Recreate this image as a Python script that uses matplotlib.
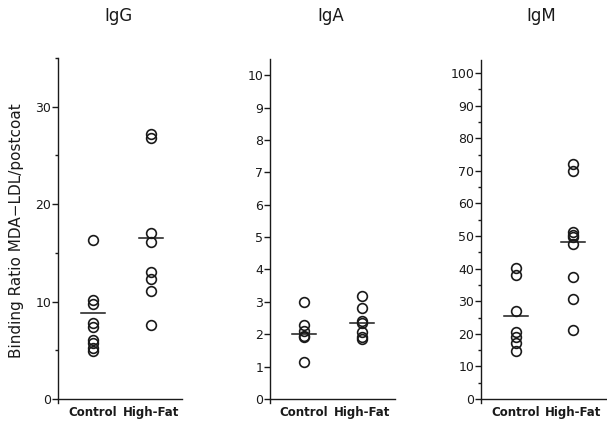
import matplotlib
matplotlib.use("Agg")
import matplotlib.pyplot as plt
from matplotlib.ticker import MultipleLocator

groups = ["Control", "High-Fat"]
titles = ["IgG", "IgA", "IgM"]

igg_control = [16.3, 10.2, 9.7, 7.8, 7.4, 6.1, 5.7, 5.2, 4.9]
igg_highfat = [27.2, 26.8, 17.0, 16.1, 13.0, 12.3, 11.1, 7.6]
igg_means = [8.8, 16.5]

iga_control = [3.0, 2.27, 2.1, 1.95, 1.9, 1.15]
iga_highfat = [3.18, 2.8, 2.4, 2.35, 2.08, 1.9, 1.84]
iga_means = [2.0, 2.36]

igm_control = [40.2, 37.9, 26.9, 20.7, 18.9, 17.1, 14.6]
igm_highfat = [72.1, 69.8, 51.2, 50.4, 49.6, 47.7, 37.5, 30.7, 21.3]
igm_means = [25.4, 48.2]

W, H = 607, 424
fig = plt.figure(figsize=(W / 100, H / 100), dpi=100)

panels = [
    dict(data=(igg_control, igg_highfat), means=igg_means, left=58, right=182, top=58,
         ylim=35, major=10, minor=5, xl=(-0.603, 1.534), tx=118),
    dict(data=(iga_control, iga_highfat), means=iga_means, left=270, right=395, top=59,
         ylim=10.5, major=1, minor=None, xl=(-0.586, 1.57), tx=331),
    dict(data=(igm_control, igm_highfat), means=igm_means, left=481, right=607, top=60,
         ylim=104, major=10, minor=5, xl=(-0.614, 1.6), tx=541),
]
bottom_px = 399
ink = "#1a1a1a"

for i, p in enumerate(panels):
    ax = fig.add_axes([p["left"] / W, (H - bottom_px - 4) / H,
                       (p["right"] - p["left"]) / W, (bottom_px + 4 - p["top"]) / H])
    span = p["ylim"]
    pad = span * 4 / (bottom_px - p["top"])
    ax.set_ylim(-pad, span)
    ax.set_xlim(*p["xl"])
    for j, vals in enumerate(p["data"]):
        ax.plot([j] * len(vals), vals, linestyle="none", marker="o", markersize=7,
                markerfacecolor="none", markeredgecolor=ink, markeredgewidth=1.2)
        ax.plot([j - 0.21, j + 0.21], [p["means"][j]] * 2, color=ink, lw=1.1)
    ax.spines["top"].set_visible(False)
    ax.spines["right"].set_visible(False)
    ax.spines["bottom"].set_position(("data", 0))
    ax.spines["left"].set_color(ink)
    ax.spines["bottom"].set_color(ink)
    ax.spines["left"].set_linewidth(1.0)
    ax.spines["bottom"].set_linewidth(1.0)
    ax.yaxis.set_major_locator(MultipleLocator(p["major"]))
    if p["minor"]:
        ax.yaxis.set_minor_locator(MultipleLocator(p["minor"]))
    ax.set_xticks([0, 1])
    ax.set_xticklabels(groups, fontsize=8.5, fontweight="bold", color=ink)
    ax.tick_params(axis="x", length=0, pad=5)
    ax.tick_params(axis="y", which="major", direction="out", length=4, width=1,
                   labelsize=9, colors=ink, pad=1)
    ax.tick_params(axis="y", which="minor", direction="out", length=2.5, width=1, colors=ink)
    ax.set_facecolor("none")
    fig.text(p["tx"] / W, 1 - 16 / H, titles[i], ha="center", va="center",
             fontsize=12, color=ink)
    if i == 0:
        ax.set_ylabel("Binding Ratio MDA\u2212LDL/postcoat", fontsize=11, color=ink, labelpad=8)

fig.savefig("out.png", dpi=100)
